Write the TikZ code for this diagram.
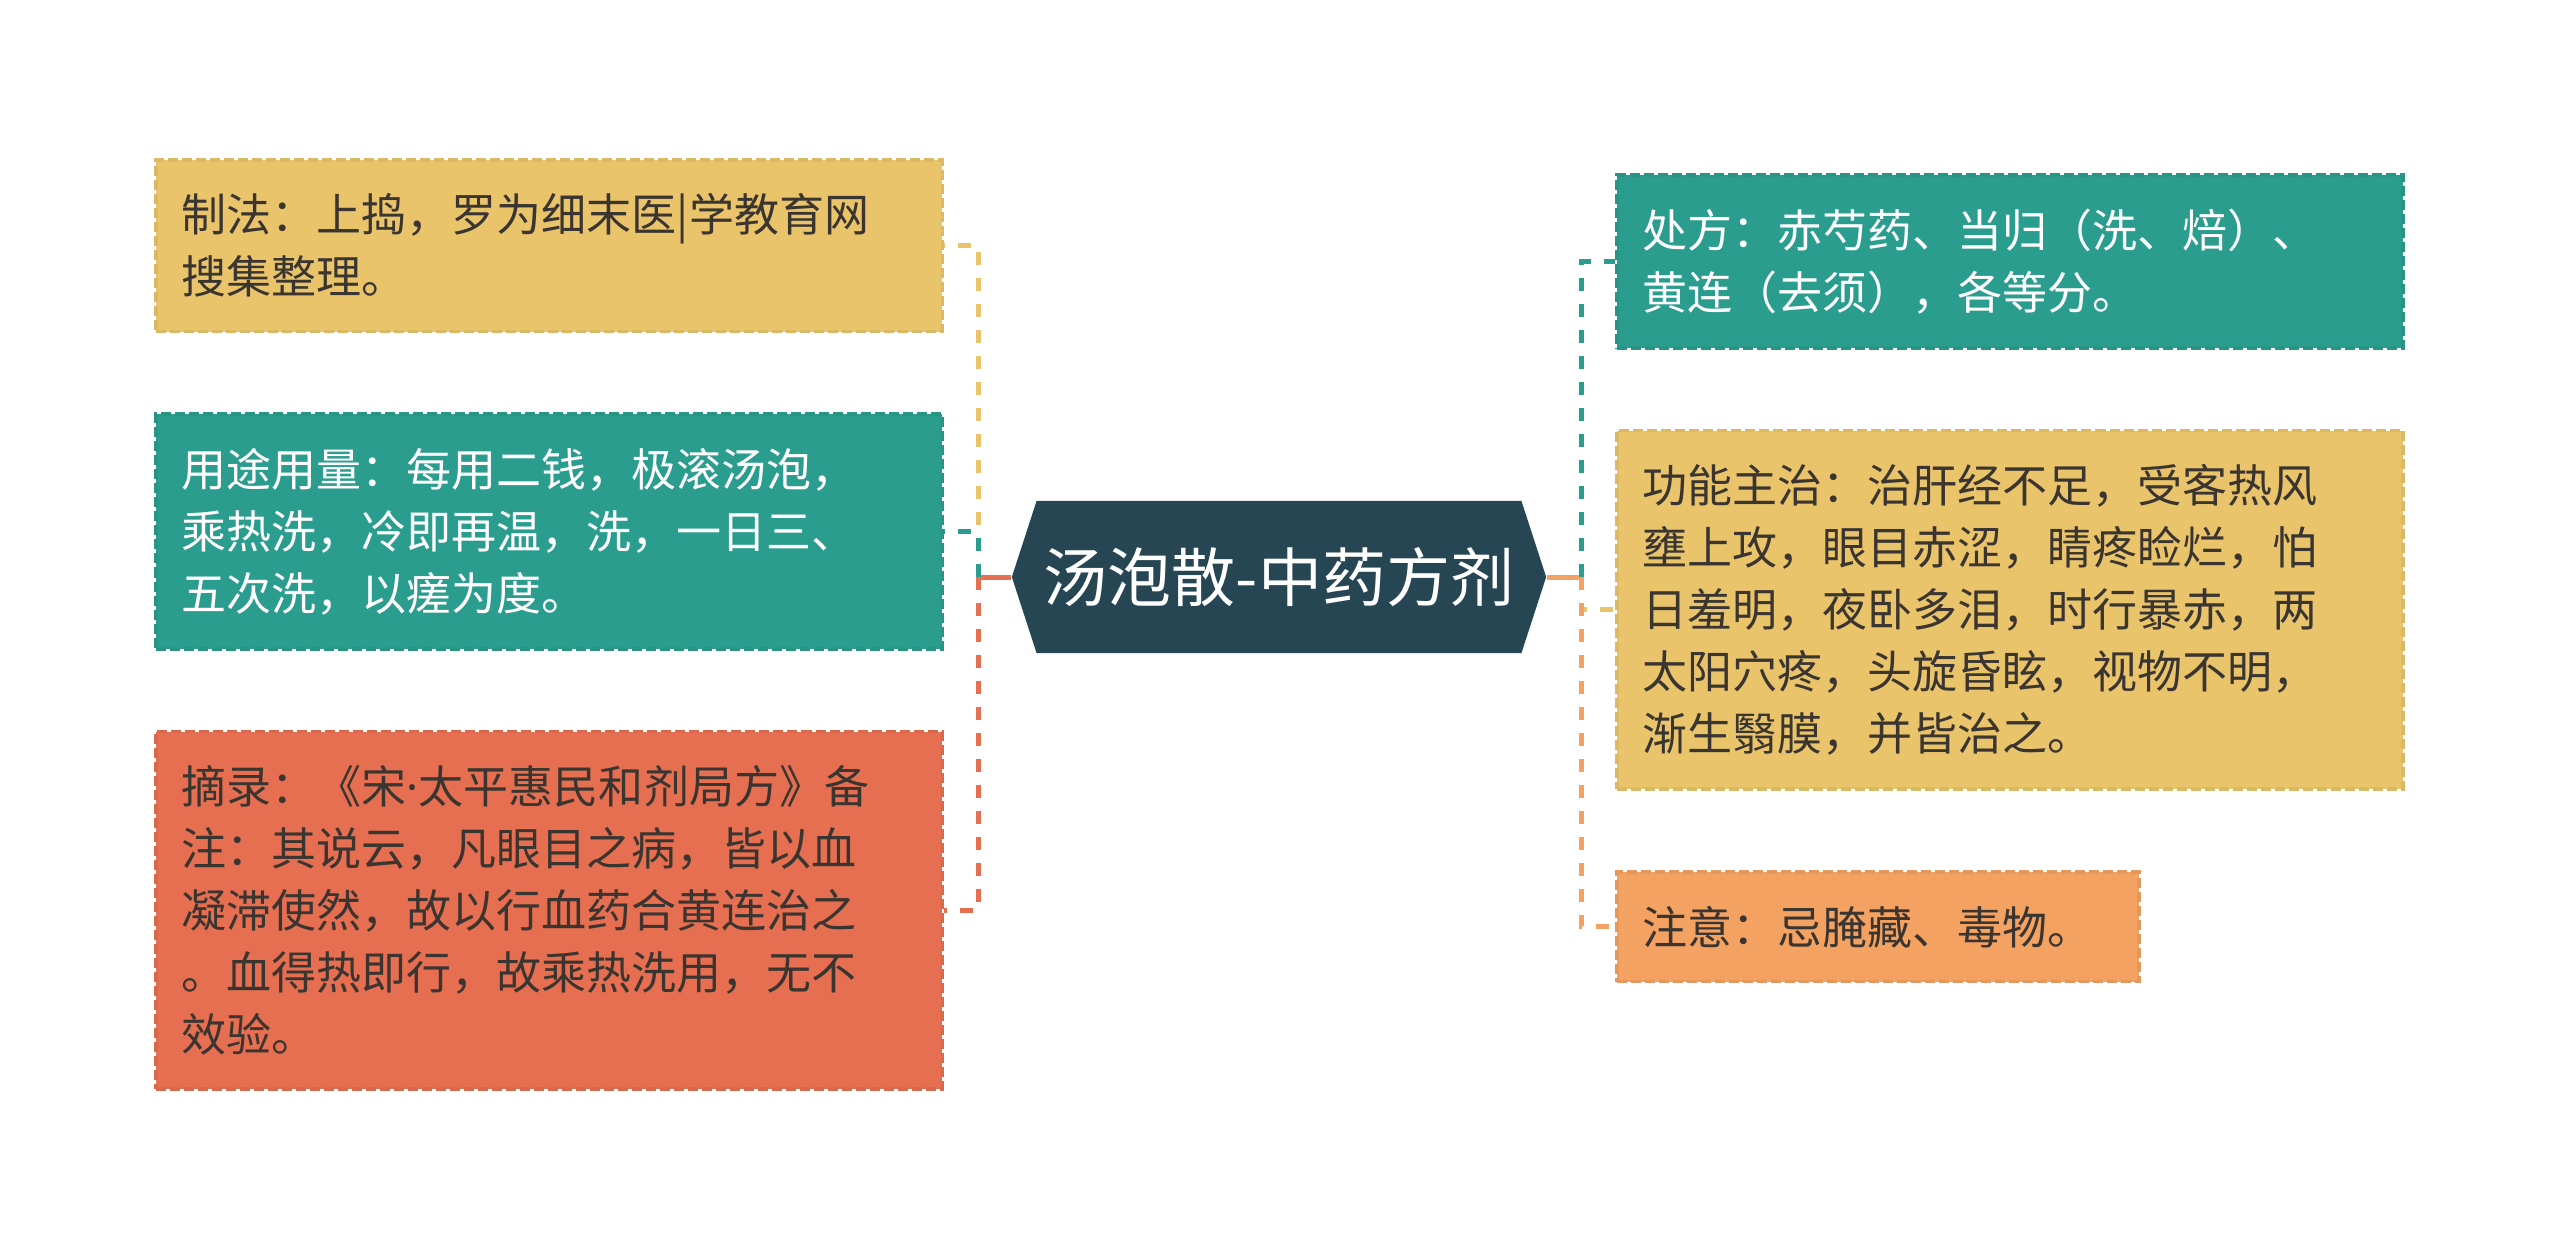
\documentclass[tikz,border=0pt]{standalone}
\usepackage{fontspec}
\setmainfont{Noto Sans CJK SC}
\newfontfamily\latinfont{Noto Sans}
\usepackage{tikz}
\usetikzlibrary{positioning, shapes.symbols}
\definecolor{sand}{HTML}{E9C46A}
\definecolor{seagreen}{HTML}{2A9D8F}
\definecolor{coral}{HTML}{E76F51}
\definecolor{apricot}{HTML}{F4A261}
\definecolor{navy}{HTML}{264653}
\definecolor{ink}{HTML}{3A3530}
\tikzset{
  card/.style={
    line width=0.035cm, dash pattern=on 0.1cm off 0.04cm,
    font=\fontsize{12.8pt}{17.6pt}\selectfont, text=ink,
    align=left, text width=7.34cm, inner xsep=0.26cm, inner ysep=0.34cm
  },
  cardsand/.style={card, fill=sand, draw=sand!94!black},
  cardgreen/.style={card, fill=seagreen, draw=seagreen!94!black, text=white},
  cardcoral/.style={card, fill=coral, draw=coral!94!black},
  cardapricot/.style={card, fill=apricot, draw=apricot!94!black},
  hub/.style={
    signal, signal to=west and east, signal pointer angle=144,
    fill=navy, text=white, font=\fontsize{18.2pt}{20pt}\selectfont,
    minimum width=5.34cm, minimum height=1.52cm, inner sep=2pt
  },
  link/.style={line width=0.05cm, dash pattern=on 0.13cm off 0.13cm},
  stem/.style={line width=0.05cm}
}

\begin{document}
\begin{tikzpicture}[x=0.01cm, y=-0.01cm, node distance=0.79cm]
  \useasboundingbox (0,0) rectangle (2560,1251);

  % centre
  \node[hub] (hub) at (1279,577) {汤泡散-中药方剂};

  % left column
  \node[cardsand, anchor=north east] (zhifa) at (944,158) {制法：上捣，罗为细末医|学教育网\\搜集整理。};
  \node[cardgreen, below=of zhifa] (yongtu) {用途用量：每用二钱，极滚汤泡，\\乘热洗，冷即再温，洗，一日三、\\五次洗，以瘥为度。};
  \node[cardcoral, below=of yongtu] (zhailu) {摘录：《宋{\latinfont ·}太平惠民和剂局方》备\\注：其说云，凡眼目之病，皆以血\\凝滞使然，故以行血药合黄连治之\\。血得热即行，故乘热洗用，无不\\效验。};

  % right column
  \node[cardgreen, anchor=north west] (chufang) at (1615,173) {处方：赤芍药、当归（洗、焙）、\\黄连（去须），各等分。};
  \node[cardsand, below=of chufang] (gongneng) {功能主治：治肝经不足，受客热风\\壅上攻，眼目赤涩，睛疼睑烂，怕\\日羞明，夜卧多泪，时行暴赤，两\\太阳穴疼，头旋昏眩，视物不明，\\渐生翳膜，并皆治之。};
  \node[cardapricot, text width=4.70cm, below=of gongneng.south west, anchor=north west] (zhuyi) {注意：忌腌藏、毒物。};

  \coordinate (ljoin) at (978,577);
  \coordinate (rjoin) at (1581,577);

  \draw[stem, coral] (hub.west) -- (ljoin);
  \draw[link, sand] (ljoin) |- (zhifa.east);
  \draw[link, seagreen] (ljoin) |- (yongtu.east);
  \draw[link, coral] (ljoin) |- (zhailu.east);

  \draw[stem, apricot] (hub.east) -- (rjoin);
  \draw[link, seagreen] (rjoin) |- (chufang.west);
  \draw[link, sand] (rjoin) |- (gongneng.west);
  \draw[link, apricot] (rjoin) |- (zhuyi.west);
\end{tikzpicture}
\end{document}
